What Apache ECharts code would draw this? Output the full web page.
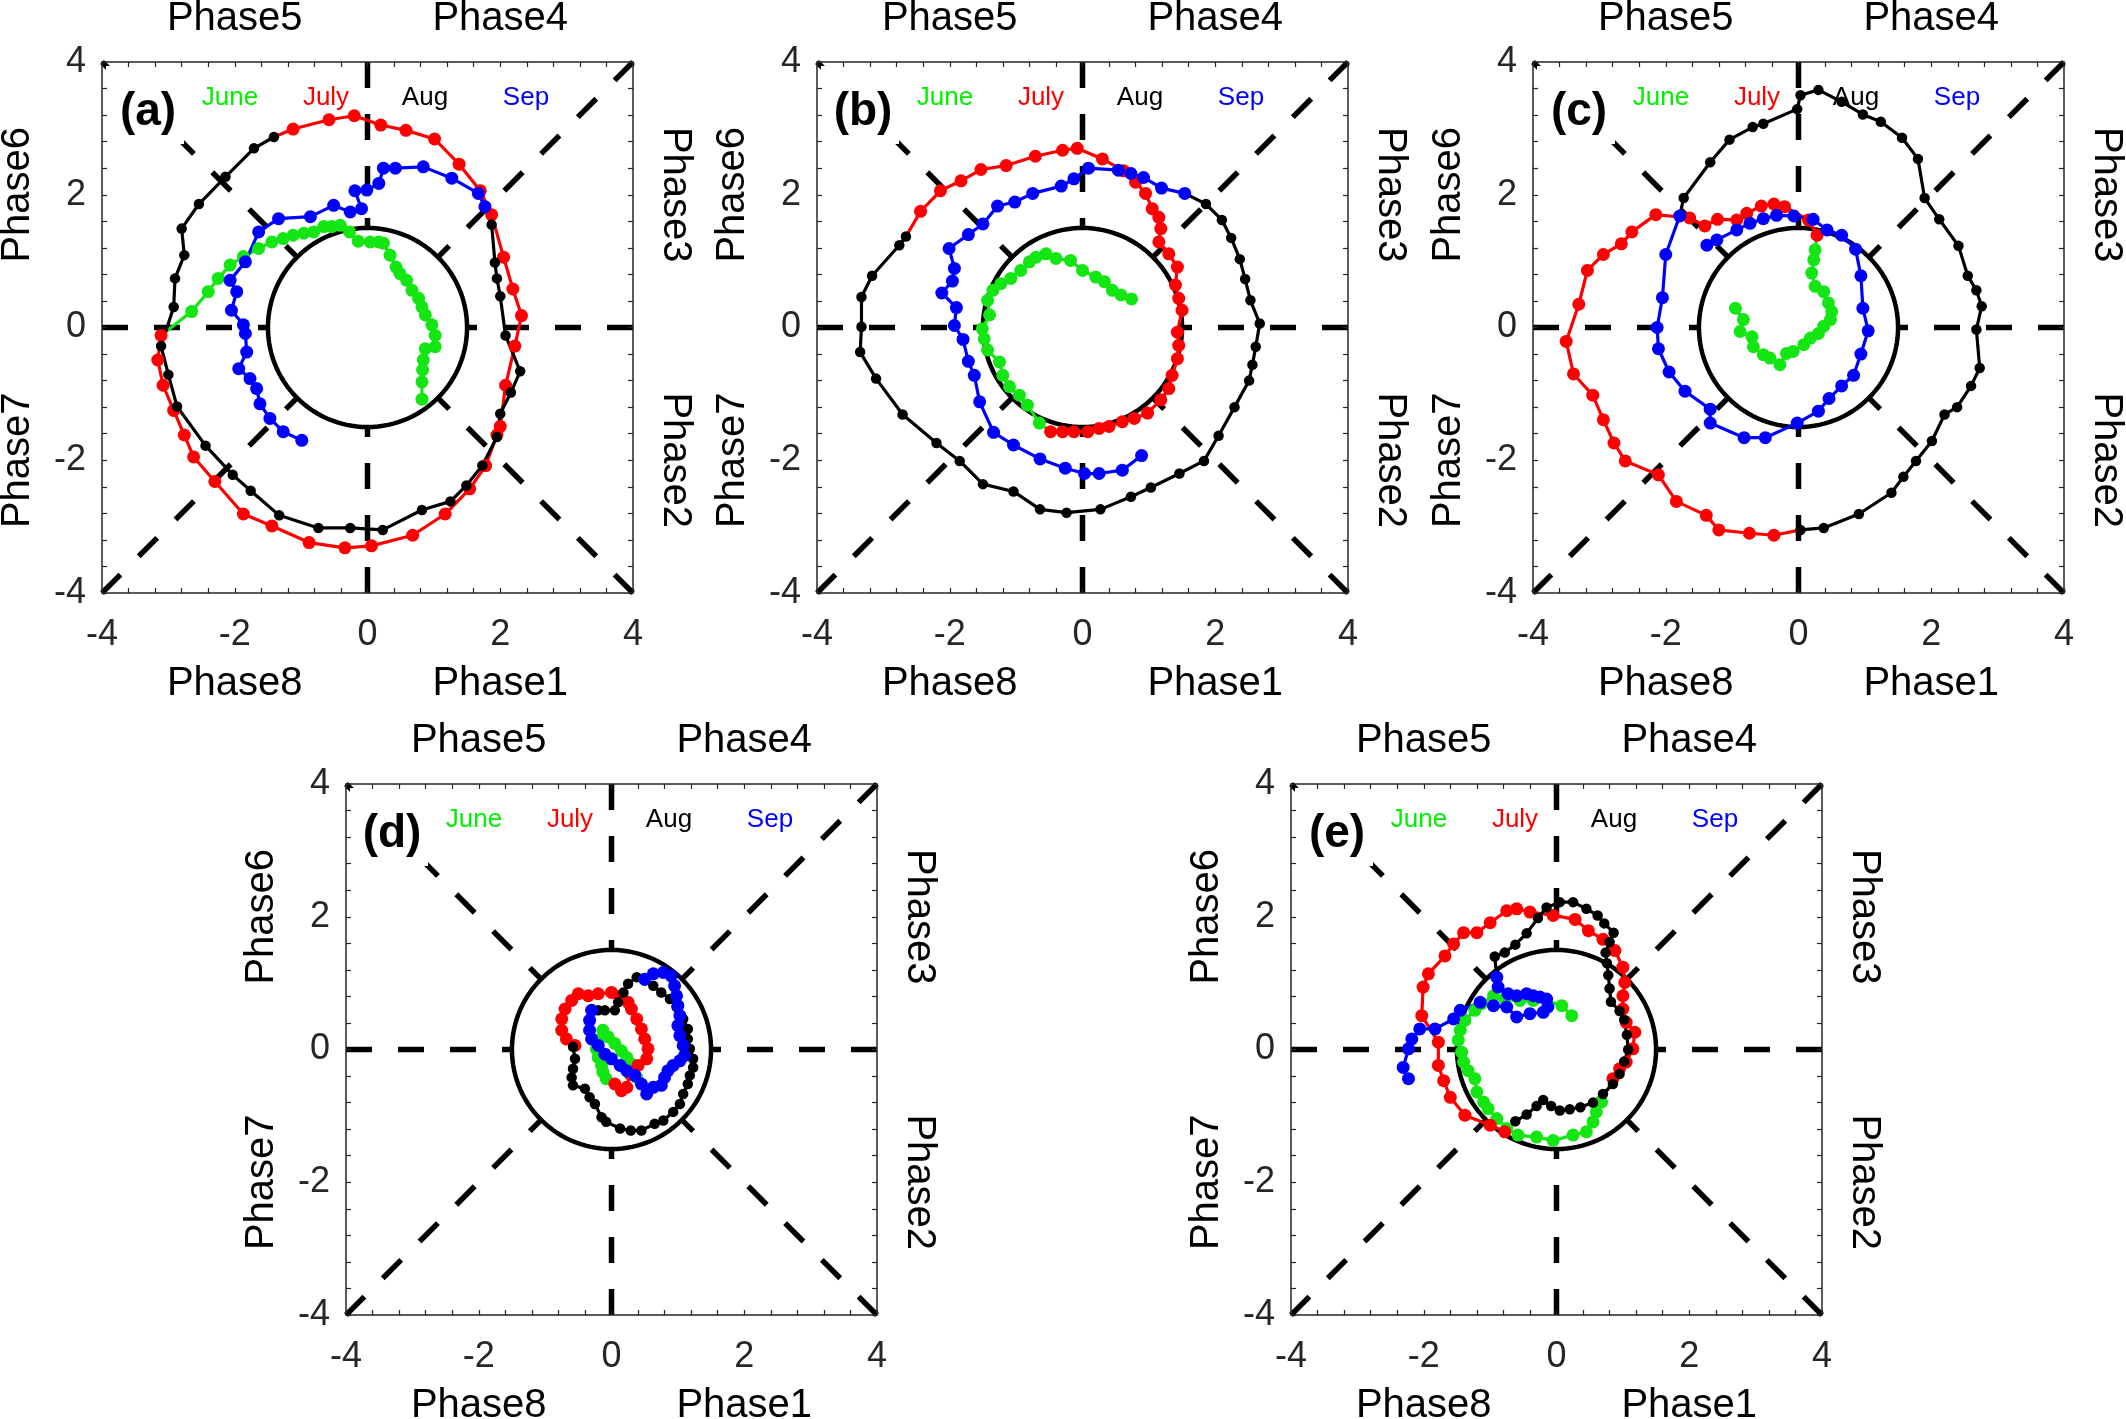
<!DOCTYPE html>
<html><head><meta charset="utf-8">
<script src="https://cdn.jsdelivr.net/npm/echarts@6/dist/echarts.min.js"></script>
<style>html,body{margin:0;padding:0;background:#fff}#c{width:2126px;height:1419px}</style>
</head><body><div id="c"></div>
<script>
// ---------- labels ----------
const tickLabels = ['-4', '-2', '0', '2', '4'];
const months = ['June', 'July', 'Aug', 'Sep'];
const panelNames = ['(a)', '(b)', '(c)', '(d)', '(e)'];
const phaseTop = ['Phase5', 'Phase4'];
const phaseBottom = ['Phase8', 'Phase1'];
const phaseLeft = ['Phase6', 'Phase7'];
const phaseRight = ['Phase3', 'Phase2'];

// ---------- data (RMM1, RMM2) ----------
const a_june = [[0.82,-1.08],[0.82,-0.82],[0.83,-0.64],[0.84,-0.49],[0.87,-0.32],[1.02,-0.29],[1.02,-0.12],[0.97,0.04],[0.87,0.19],[0.82,0.31],[0.77,0.44],[0.67,0.56],[0.59,0.71],[0.49,0.81],[0.43,0.91],[0.34,1.09],[0.24,1.27],[0.17,1.29],[0.04,1.29],[-0.14,1.30],[-0.27,1.44],[-0.41,1.54],[-0.54,1.52],[-0.66,1.52],[-0.81,1.44],[-0.96,1.42],[-1.12,1.39],[-1.27,1.34],[-1.44,1.29],[-1.64,1.19],[-1.87,1.07],[-2.07,0.94],[-2.25,0.74],[-2.40,0.54],[-2.65,0.24]];
const a_july = [[-3.11,-0.12],[-3.16,-0.49],[-3.08,-0.87],[-2.92,-1.25],[-2.76,-1.62],[-2.62,-1.95],[-2.30,-2.32],[-1.87,-2.81],[-1.44,-2.99],[-0.88,-3.24],[-0.34,-3.32],[0.06,-3.29],[0.68,-3.13],[1.17,-2.81],[1.54,-2.43],[1.78,-2.08],[1.95,-1.62],[2.00,-1.49],[2.08,-0.87],[2.22,-0.28],[2.32,0.18],[2.19,0.58],[2.05,1.06],[1.87,1.70],[1.70,2.06],[1.38,2.46],[1.01,2.84],[0.58,2.97],[0.20,3.05],[-0.20,3.19],[-0.58,3.13],[-1.12,2.99]];
const a_aug = [[-1.41,2.87],[-1.71,2.70],[-2.14,2.27],[-2.54,1.86],[-2.80,1.49],[-2.76,1.09],[-2.90,0.74],[-2.92,0.31],[-3.11,-0.28],[-3.00,-0.71],[-2.87,-1.19],[-2.44,-1.78],[-2.03,-2.22],[-1.76,-2.46],[-1.33,-2.83],[-0.74,-3.02],[-0.26,-3.02],[0.23,-3.05],[0.82,-2.75],[1.25,-2.62],[1.49,-2.38],[1.73,-2.08],[1.95,-1.65],[2.00,-1.30],[2.16,-0.98],[2.30,-0.66],[2.08,-0.12],[2.00,0.47],[1.95,0.74],[1.92,0.98],[1.87,1.55]];
const a_sep = [[1.77,1.82],[1.67,2.02],[1.27,2.25],[0.84,2.42],[0.42,2.40],[0.24,2.40],[0.17,2.17],[-0.01,2.07],[-0.19,2.06],[-0.09,1.79],[-0.26,1.74],[-0.51,1.84],[-0.86,1.67],[-1.34,1.64],[-1.64,1.44],[-1.84,0.99],[-2.07,0.71],[-1.97,0.54],[-2.05,0.26],[-1.87,0.04],[-1.84,-0.09],[-1.82,-0.37],[-1.94,-0.62],[-1.77,-0.77],[-1.67,-0.92],[-1.62,-1.15],[-1.47,-1.37],[-1.27,-1.57],[-0.99,-1.70]];

const b_june = [[0.74,0.43],[0.58,0.49],[0.45,0.56],[0.33,0.69],[0.20,0.76],[0.00,0.86],[-0.18,1.01],[-0.40,1.04],[-0.55,1.11],[-0.70,1.06],[-0.80,0.99],[-0.93,0.86],[-1.08,0.74],[-1.23,0.66],[-1.35,0.56],[-1.43,0.41],[-1.40,0.19],[-1.51,-0.02],[-1.48,-0.17],[-1.43,-0.34],[-1.25,-0.52],[-1.20,-0.72],[-1.10,-0.89],[-0.95,-1.02],[-0.83,-1.17],[-0.65,-1.44]];
const b_july = [[-0.48,-1.57],[-0.30,-1.57],[-0.13,-1.57],[0.08,-1.57],[0.25,-1.52],[0.40,-1.49],[0.60,-1.42],[0.78,-1.37],[0.98,-1.29],[1.18,-1.09],[1.30,-0.92],[1.35,-0.72],[1.43,-0.47],[1.45,-0.27],[1.43,-0.07],[1.50,0.26],[1.45,0.44],[1.40,0.64],[1.43,0.91],[1.30,1.11],[1.15,1.29],[1.18,1.49],[1.15,1.66],[1.05,1.79],[0.95,2.02],[0.80,2.19],[0.62,2.36],[0.30,2.54],[-0.08,2.70],[-0.30,2.67],[-0.71,2.58],[-1.15,2.44],[-1.53,2.38],[-1.83,2.21],[-2.14,2.06],[-2.44,1.75]];
const b_aug = [[-2.66,1.37],[-2.76,1.24],[-3.17,0.78],[-3.33,0.46],[-3.33,0.01],[-3.35,-0.37],[-3.11,-0.77],[-2.71,-1.31],[-2.20,-1.74],[-1.85,-2.01],[-1.50,-2.36],[-1.04,-2.47],[-0.64,-2.74],[-0.24,-2.79],[0.27,-2.74],[0.73,-2.55],[1.03,-2.41],[1.46,-2.20],[1.83,-2.01],[2.05,-1.63],[2.29,-1.20],[2.51,-0.80],[2.56,-0.56],[2.61,-0.29],[2.67,0.06],[2.53,0.41],[2.45,0.73],[2.37,1.03],[2.24,1.35],[2.10,1.62],[1.86,1.86]];
const b_sep = [[1.54,2.02],[1.19,2.10],[0.92,2.26],[0.73,2.32],[0.54,2.37],[0.09,2.40],[-0.13,2.24],[-0.32,2.13],[-0.75,2.02],[-1.02,1.89],[-1.28,1.83],[-1.50,1.56],[-1.72,1.40],[-2.01,1.19],[-1.93,0.89],[-1.96,0.70],[-2.12,0.52],[-1.90,0.30],[-1.93,0.03],[-1.80,-0.18],[-1.72,-0.51],[-1.63,-0.72],[-1.55,-1.12],[-1.34,-1.58],[-1.04,-1.77],[-0.64,-1.98],[-0.26,-2.12],[0.03,-2.20],[0.25,-2.20],[0.60,-2.15],[0.89,-1.93]];

const c_june = [[-0.95,0.29],[-0.83,0.12],[-0.88,-0.06],[-0.70,-0.14],[-0.68,-0.29],[-0.53,-0.41],[-0.43,-0.46],[-0.28,-0.56],[-0.18,-0.39],[-0.08,-0.36],[0.08,-0.26],[0.18,-0.16],[0.30,-0.09],[0.38,0.02],[0.48,0.12],[0.50,0.24],[0.45,0.37],[0.38,0.54],[0.25,0.62],[0.20,0.82],[0.23,1.02],[0.25,1.17]];
const c_july = [[0.28,1.39],[0.15,1.62],[-0.21,1.82],[-0.37,1.86],[-0.56,1.83],[-0.78,1.72],[-0.93,1.62],[-1.22,1.63],[-1.41,1.53],[-1.64,1.65],[-2.15,1.70],[-2.51,1.44],[-2.67,1.26],[-2.94,1.10],[-3.18,0.86],[-3.31,0.35],[-3.50,-0.21],[-3.39,-0.70],[-3.10,-1.02],[-2.94,-1.39],[-2.78,-1.74],[-2.61,-2.01],[-2.11,-2.22],[-1.84,-2.62],[-1.39,-2.83],[-1.20,-3.05],[-0.74,-3.10],[-0.37,-3.13]];
const c_aug = [[0.03,-3.05],[0.38,-3.02],[0.91,-2.81],[1.40,-2.49],[1.58,-2.25],[1.77,-2.01],[2.01,-1.71],[2.20,-1.31],[2.39,-1.20],[2.60,-0.88],[2.73,-0.61],[2.68,-0.03],[2.76,0.32],[2.68,0.56],[2.55,0.78],[2.41,1.23],[2.12,1.63],[1.90,1.95],[1.80,2.54],[1.56,2.86],[1.24,3.10],[0.97,3.21],[0.65,3.40],[0.30,3.58],[0.03,3.50],[-0.02,3.29],[-0.53,3.07],[-0.69,3.02],[-1.04,2.83],[-1.33,2.49],[-1.73,1.95]];
const c_sep = [[-1.79,1.68],[-2.00,1.10],[-2.05,0.45],[-2.13,0.00],[-2.11,-0.32],[-1.95,-0.67],[-1.71,-0.96],[-1.33,-1.23],[-1.33,-1.44],[-0.82,-1.66],[-0.50,-1.66],[-0.02,-1.44],[0.30,-1.26],[0.46,-1.07],[0.65,-0.88],[0.83,-0.72],[0.94,-0.40],[1.05,-0.05],[0.97,0.29],[0.94,0.78],[0.86,1.18],[0.65,1.39],[0.43,1.47],[0.22,1.63],[-0.07,1.68],[-0.33,1.69],[-0.53,1.64],[-0.73,1.57],[-0.93,1.47],[-1.23,1.32],[-1.38,1.24]];

const d_june = [[0.38,-0.42],[0.30,-0.22],[0.23,-0.12],[0.15,-0.02],[0.05,0.09],[-0.05,0.19],[-0.13,0.29],[-0.20,0.14],[-0.23,0.01],[-0.20,-0.12],[-0.15,-0.24],[-0.13,-0.34],[-0.08,-0.44]];
const d_july = [[0.05,-0.52],[0.15,-0.62],[0.23,-0.57],[0.28,-0.37],[0.40,-0.24],[0.53,-0.14],[0.55,0.01],[0.50,0.16],[0.45,0.31],[0.38,0.46],[0.30,0.61],[0.25,0.71],[0.12,0.80],[0.00,0.86],[-0.20,0.84],[-0.35,0.81],[-0.50,0.84],[-0.60,0.74],[-0.70,0.61],[-0.75,0.46],[-0.75,0.29],[-0.68,0.16],[-0.55,0.06]];
const d_aug = [[-0.58,0.04],[-0.55,-0.14],[-0.58,-0.29],[-0.60,-0.42],[-0.58,-0.54],[-0.40,-0.59],[-0.33,-0.72],[-0.25,-0.82],[-0.15,-1.02],[-0.08,-1.09],[0.13,-1.19],[0.29,-1.22],[0.45,-1.22],[0.65,-1.12],[0.78,-1.07],[0.93,-0.94],[1.03,-0.82],[1.08,-0.67],[1.15,-0.52],[1.18,-0.39],[1.23,-0.27],[1.23,-0.14],[1.18,0.01],[1.15,0.16],[1.15,0.31],[1.08,0.46],[0.98,0.64],[0.88,0.76],[0.75,0.86],[0.63,0.96],[0.50,1.04],[0.38,1.09],[0.25,0.99],[0.18,0.86],[0.10,0.71],[0.05,0.59],[-0.10,0.59],[-0.20,0.59]];
const d_sep = [[-0.30,0.59],[-0.33,0.44],[-0.33,0.29],[-0.30,0.16],[-0.20,0.06],[-0.10,-0.07],[0.00,-0.14],[0.13,-0.24],[0.23,-0.32],[0.35,-0.39],[0.45,-0.52],[0.53,-0.67],[0.63,-0.57],[0.75,-0.54],[0.80,-0.42],[0.85,-0.32],[0.93,-0.24],[1.03,-0.17],[1.10,-0.09],[1.08,0.06],[1.03,0.21],[1.00,0.36],[1.03,0.51],[1.00,0.66],[0.98,0.81],[0.95,0.96],[0.90,1.11],[0.78,1.16],[0.63,1.14],[0.50,1.06]];

const e_june = [[0.23,0.51],[0.08,0.66],[-0.15,0.74],[-0.35,0.74],[-0.55,0.74],[-0.78,0.76],[-0.95,0.81],[-1.13,0.69],[-1.23,0.59],[-1.38,0.44],[-1.45,0.29],[-1.48,0.14],[-1.43,-0.04],[-1.40,-0.19],[-1.33,-0.32],[-1.23,-0.44],[-1.20,-0.64],[-1.10,-0.79],[-1.03,-0.89],[-0.90,-1.04],[-0.75,-1.19],[-0.58,-1.29],[-0.30,-1.32],[-0.05,-1.37],[0.25,-1.29],[0.45,-1.24],[0.55,-1.09],[0.60,-0.94],[0.68,-0.79]];
const e_july = [[0.85,-0.44],[0.95,-0.29],[1.05,-0.19],[1.15,0.01],[1.18,0.26],[1.05,0.41],[1.00,0.61],[1.00,0.81],[1.03,1.01],[1.00,1.24],[0.88,1.49],[0.70,1.66],[0.48,1.79],[0.28,1.96],[-0.05,2.02],[-0.40,2.07],[-0.60,2.12],[-0.75,2.09],[-1.00,1.91],[-1.20,1.76],[-1.40,1.76],[-1.55,1.59],[-1.68,1.41],[-1.93,1.14],[-2.01,0.94],[-2.03,0.51],[-1.78,0.11],[-1.78,-0.24],[-1.70,-0.47],[-1.60,-0.72],[-1.38,-0.99],[-1.00,-1.14],[-0.78,-1.24]];
const e_aug = [[-0.62,-1.08],[-0.45,-0.98],[-0.30,-0.85],[-0.20,-0.76],[-0.08,-0.85],[0.05,-0.92],[0.20,-0.90],[0.36,-0.87],[0.55,-0.80],[0.70,-0.67],[0.85,-0.52],[0.95,-0.37],[1.02,-0.18],[1.08,0.00],[1.06,0.22],[1.02,0.45],[0.95,0.58],[0.82,0.72],[0.80,0.92],[0.78,1.12],[0.76,1.30],[0.74,1.46],[0.80,1.62],[0.86,1.76],[0.72,1.90],[0.62,2.02],[0.45,2.12],[0.25,2.22],[0.05,2.22],[-0.15,2.14],[-0.28,1.98],[-0.45,1.75],[-0.62,1.58],[-0.78,1.46],[-0.93,1.40]];
const e_sep = [[-0.90,1.09],[-0.88,0.94],[-0.73,0.84],[-0.60,0.81],[-0.45,0.84],[-0.35,0.81],[-0.25,0.79],[-0.15,0.76],[-0.13,0.64],[-0.20,0.56],[-0.40,0.54],[-0.60,0.49],[-0.75,0.64],[-0.95,0.66],[-1.15,0.71],[-1.45,0.59],[-1.55,0.46],[-1.83,0.31],[-2.06,0.31],[-2.18,0.16],[-2.23,0.01],[-2.31,-0.27],[-2.23,-0.44]];

const panelData = [
  [a_june, a_july, a_aug, a_sep],
  [b_june, b_july, b_aug, b_sep],
  [c_june, c_july, c_aug, c_sep],
  [d_june, d_july, d_aug, d_sep],
  [e_june, e_july, e_aug, e_sep]
];

// ---------- layout & style ----------
const FONT = '"Liberation Sans", Arial, Helvetica, sans-serif';
const monthColors = ['#14e614', '#ff0000', '#000000', '#0000ff'];
const legendColors = ['#00f000', '#ff0000', '#000000', '#0000ff'];
const markerSizes = [13, 13, 10.5, 13];
const SIZE = 531;
const panelPos = [[102, 62], [817, 62], [1533, 62], [346, 784], [1291, 784]];
const legendX = [128, 224, 323, 424];
const R = 1.5;
const AX = '#262626';

const grids = [], xAxes = [], yAxes = [], series = [], graphics = [];

function axisCommon(i, pos, showLabel, isX) {
  return {
    type: 'value', gridIndex: i, position: pos, min: -4, max: 4, interval: 2, z: 10,
    axisLine: { show: true, onZero: false, lineStyle: { color: AX, width: 1.5 } },
    axisTick: { show: true, inside: true, length: 5, lineStyle: { color: AX, width: 1.2 } },
    minorTick: { show: true, splitNumber: 5, length: 5, lineStyle: { color: AX, width: 1.2 } },
    splitLine: { show: false }, minorSplitLine: { show: false },
    axisLabel: {
      show: showLabel, fontSize: 36, color: AX, fontFamily: FONT,
      margin: isX ? 24 : 16,
      formatter: v => tickLabels[Math.round((v + 4) / 2)]
    }
  };
}

function txt(text, x, y, font, color, rot, z) {
  return {
    type: 'text', x: x, y: y, rotation: rot || 0, z: z == null ? 2.5 : z, silent: true,
    style: { text: text, font: font, fill: color, textAlign: 'center', textVerticalAlign: 'middle', align: 'center', verticalAlign: 'middle' }
  };
}

panelPos.forEach(([L, T], i) => {
  grids.push({ left: L, top: T, width: SIZE, height: SIZE });
  xAxes.push(axisCommon(i, 'bottom', true, true));
  xAxes.push(axisCommon(i, 'top', false, true));
  yAxes.push(axisCommon(i, 'left', true, false));
  yAxes.push(axisCommon(i, 'right', false, false));
  const xi = 2 * i, yi = 2 * i;

  // dashed phase boundaries (from frame inward to the circle)
  [[4, 0], [4, 4], [0, 4], [-4, 4], [-4, 0], [-4, -4], [0, -4], [4, -4]].forEach(([ex, ey]) => {
    const len = Math.hypot(ex, ey);
    series.push({
      type: 'line', xAxisIndex: xi, yAxisIndex: yi, data: [[ex, ey], [ex / len * R, ey / len * R]],
      symbol: 'none', silent: true, z: 1, animation: false,
      lineStyle: { color: '#000', width: 5.5, type: [26, 26], cap: 'butt' }
    });
  });
  // amplitude circle
  const circ = [];
  for (let k = 0; k <= 120; k++) { const t = k / 120 * 2 * Math.PI; circ.push([R * Math.cos(t), R * Math.sin(t)]); }
  series.push({
    type: 'line', xAxisIndex: xi, yAxisIndex: yi, data: circ, symbol: 'none', silent: true, z: 2,
    animation: false, lineStyle: { color: '#000', width: 4.5 }
  });
  // monthly trajectories
  const pd = panelData[i];
  pd.forEach((arr, m) => {
    const d = arr.map(p => p.slice());
    if (m < pd.length - 1) d.push({ value: pd[m + 1][0].slice(), symbol: 'none' });
    series.push({
      type: 'line', name: months[m], xAxisIndex: xi, yAxisIndex: yi, data: d, z: 3,
      symbol: 'circle', symbolSize: markerSizes[m], animation: false, silent: true,
      itemStyle: { color: monthColors[m], borderWidth: 0 },
      lineStyle: { color: monthColors[m], width: 3.2, join: 'round' }
    });
  });

  // white box behind the panel letter
  graphics.push({ type: 'rect', z: 1.5, silent: true, shape: { x: L + 4, y: T + 4, width: 78, height: 78 }, style: { fill: '#fff' } });
  graphics.push(txt(panelNames[i], L + 46, T + 50, 'bold 46px ' + FONT, '#000', 0, 2.5));
  months.forEach((m, k) => graphics.push(txt(m, L + legendX[k], T + 36, '26px ' + FONT, legendColors[k], 0, 2.5)));
  const q1 = L + SIZE * 0.25, q3 = L + SIZE * 0.75, r1 = T + SIZE * 0.25, r3 = T + SIZE * 0.75;
  const PF = '40px ' + FONT;
  graphics.push(txt(phaseTop[0], q1, T - 43, PF, '#000'));
  graphics.push(txt(phaseTop[1], q3, T - 43, PF, '#000'));
  graphics.push(txt(phaseBottom[0], q1, T + SIZE + 91, PF, '#000'));
  graphics.push(txt(phaseBottom[1], q3, T + SIZE + 91, PF, '#000'));
  graphics.push(txt(phaseLeft[0], L - 84, r1, PF, '#000', Math.PI / 2));
  graphics.push(txt(phaseLeft[1], L - 84, r3, PF, '#000', Math.PI / 2));
  graphics.push(txt(phaseRight[0], L + SIZE + 42, r1, PF, '#000', -Math.PI / 2));
  graphics.push(txt(phaseRight[1], L + SIZE + 42, r3, PF, '#000', -Math.PI / 2));
});

const chart = echarts.init(document.getElementById('c'), null, { renderer: 'canvas' });
chart.setOption({
  backgroundColor: '#fff',
  animation: false,
  grid: grids, xAxis: xAxes, yAxis: yAxes, series: series,
  graphic: { elements: graphics }
});
</script></body></html>
